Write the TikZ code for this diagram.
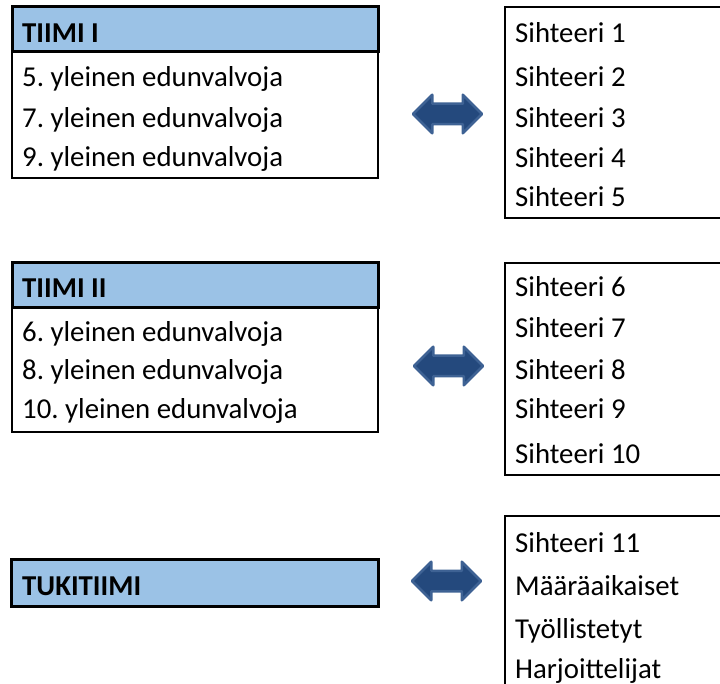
\documentclass[tikz,border=0pt]{standalone}
\usepackage{fontspec}
\setmainfont{Carlito}
\frenchspacing
\usetikzlibrary{shapes.arrows}
\definecolor{headblue}{RGB}{155,194,230}
\definecolor{arrowfill}{RGB}{36,73,125}
\definecolor{arrowline}{RGB}{62,98,148}
\tikzset{
	itemtxt/.style={anchor=base west, inner sep=0pt, font=\fontsize{28.8pt}{34pt}\selectfont},
	headtxt/.style={itemtxt, font=\fontsize{28.8pt}{34pt}\selectfont\bfseries},
	duoarrow/.style={double arrow, fill=arrowfill, draw=arrowline, line width=2.5pt, line join=round,
		minimum height=69pt, minimum width=36pt, double arrow head extend=9pt, inner sep=9pt},
}

\begin{document}
\begin{tikzpicture}[x=1pt, y=-1pt]
		%%%%% START %%%%%
		\useasboundingbox (0,0) rectangle (720,684);
		
		% tiimi I
		\draw[line width=2pt] (12,52) rectangle (378,178);
		\draw[line width=3pt, fill=headblue] (12,7) rectangle (378,52);
		\node[headtxt] (tiimi1) at (22,43) {TIIMI I};
		\foreach \n/\y in {5/87,7/128,9/167}
			\node[itemtxt] (edu\n) at (22,\y) {\n. yleinen edunvalvoja};
		
		\node[duoarrow] (nuoli1) at (447.5,114) {};
		
		\draw[line width=2pt] (505,7) rectangle (730,218);
		\foreach \n/\y in {1/43,2/87,3/128,4/168,5/207}
			\node[itemtxt] (siht\n) at (515,\y) {Sihteeri \n};
		
		% tiimi II
		\draw[line width=2pt] (12,308) rectangle (378,432);
		\draw[line width=3pt, fill=headblue] (12,263) rectangle (378,308);
		\node[headtxt] (tiimi2) at (22,298) {TIIMI II};
		\foreach \n/\y in {6/342,8/380,10/418}
			\node[itemtxt] (edu\n) at (22,\y) {\n. yleinen edunvalvoja};
		
		\node[duoarrow] (nuoli2) at (448.5,366) {};
		
		\draw[line width=2pt] (505,263) rectangle (730,475);
		\foreach \n/\y in {6/297,7/338,8/380,9/418,10/463}
			\node[itemtxt] (siht\n) at (515,\y) {Sihteeri \n};
		
		% tukitiimi
		\draw[line width=3pt, fill=headblue] (11,559) rectangle (378,606);
		\node[headtxt] (tuki) at (22,595) {TUKITIIMI};
		
		\node[duoarrow] (nuoli3) at (446.5,581) {};
		
		\draw[line width=2pt] (505,516) rectangle (730,700);
		\node[itemtxt] (siht11) at (515,552) {Sihteeri 11};
		\node[itemtxt] (maara) at (515,595) {Määräaikaiset};
		\node[itemtxt] (tyoll) at (515,638) {Työllistetyt};
		\node[itemtxt] (harj) at (515,678) {Harjoittelijat};
		
		%%%%% END %%%%%
\end{tikzpicture}
\end{document}
